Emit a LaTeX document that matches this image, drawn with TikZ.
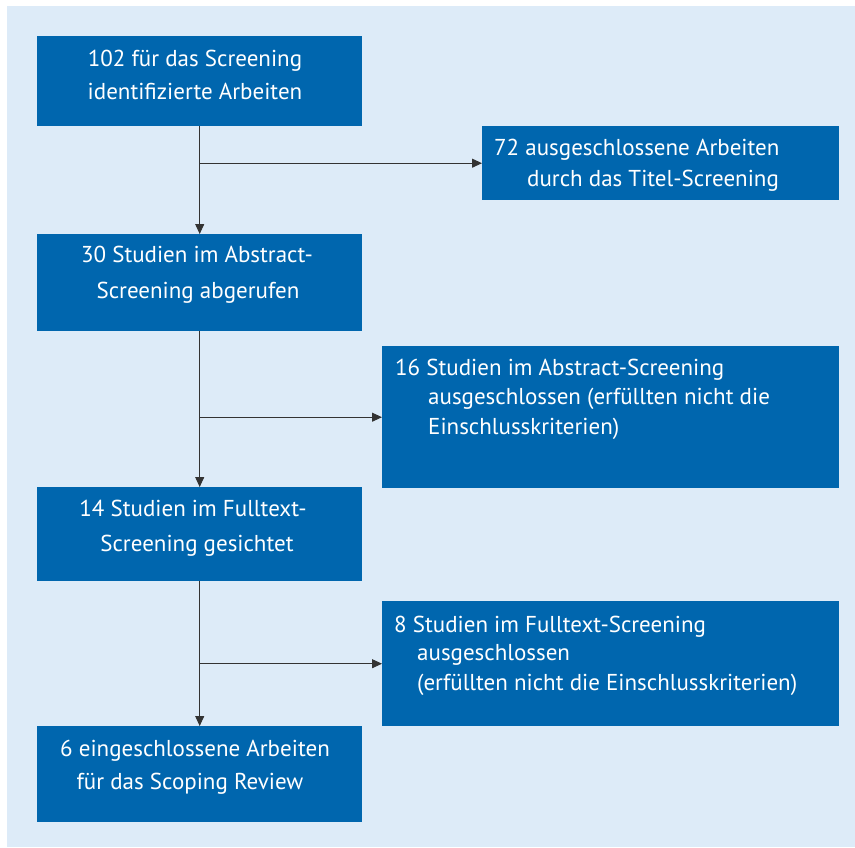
\documentclass[tikz,border=0pt]{standalone}
\usepackage{fontspec}
\setmainfont{PT Sans}
\usetikzlibrary{arrows.meta,calc}
\definecolor{bgblue}{HTML}{DDEBF8}
\definecolor{boxblue}{HTML}{0066AE}
\definecolor{linegray}{HTML}{333333}
\tikzset{
  flowbox/.style={draw=none, fill=boxblue, rectangle, inner sep=0pt, anchor=north west},
  boxtext/.style={text=white, inner sep=0pt, font=\fontsize{23}{27}\selectfont},
  conn/.style={draw=linegray, line width=1pt, -{Triangle[length=10pt,width=9pt]}}
}
\begin{document}
\begin{tikzpicture}[x=1pt,y=-1pt]
\useasboundingbox (0,0) rectangle (855,847);
\fill[white] (0,0) rectangle (855,847);
\fill[bgblue] (7,6) rectangle (855,847);
% boxes
\node[flowbox, minimum width=325pt, minimum height=90pt] (b1) at (37,36) {};
\node[flowbox, minimum width=357pt, minimum height=74pt] (b2) at (482,126) {};
\node[flowbox, minimum width=325pt, minimum height=97pt] (b3) at (37,234) {};
\node[flowbox, minimum width=457pt, minimum height=142pt] (b4) at (382,346) {};
\node[flowbox, minimum width=325pt, minimum height=94pt] (b5) at (37,487) {};
\node[flowbox, minimum width=457pt, minimum height=125pt] (b6) at (382,601) {};
\node[flowbox, minimum width=325pt, minimum height=96pt] (b7) at (37,726) {};
% texts
\node[boxtext, anchor=base] (t1a) at (195,66) {102 für das Screening};
\node[boxtext, anchor=base] (t1b) at (195,99) {identifizierte Arbeiten};
\node[boxtext, anchor=base west] (t2a) at (494,155) {72 ausgeschlossene Arbeiten};
\node[boxtext, anchor=base west] (t2b) at (527,186) {durch das Titel-Screening};
\node[boxtext, anchor=base] (t3a) at (197,262) {30 Studien im Abstract-};
\node[boxtext, anchor=base] (t3b) at (198,298) {Screening abgerufen};
\node[boxtext, anchor=base west] (t4a) at (395,375) {16 Studien im Abstract-Screening};
\node[boxtext, anchor=base west] (t4b) at (428,404) {ausgeschlossen (erfüllten nicht die};
\node[boxtext, anchor=base west] (t4c) at (428,434) {Einschlusskriterien)};
\node[boxtext, anchor=base] (t5a) at (193,516) {14 Studien im Fulltext-};
\node[boxtext, anchor=base] (t5b) at (197,551) {Screening gesichtet};
\node[boxtext, anchor=base west] (t6a) at (394,632) {8 Studien im Fulltext-Screening};
\node[boxtext, anchor=base west] (t6b) at (417,660) {ausgeschlossen};
\node[boxtext, anchor=base west] (t6c) at (417,690) {(erfüllten nicht die Einschlusskriterien)};
\node[boxtext, anchor=base] (t7a) at (195,756) {6 eingeschlossene Arbeiten};
\node[boxtext, anchor=base] (t7b) at (190,789) {für das Scoping Review};
% connectors
\draw[conn] (b1.south) -- (b3.north);
\draw[conn] (b1.south |- b2.west) -- (b2.west);
\draw[conn] (b3.south) -- (b5.north);
\draw[conn] (b3.south |- b4.west) -- (b4.west);
\draw[conn] (b5.south) -- (b7.north);
\draw[conn] (b5.south |- b6.west) -- (b6.west);
\end{tikzpicture}
\end{document}
